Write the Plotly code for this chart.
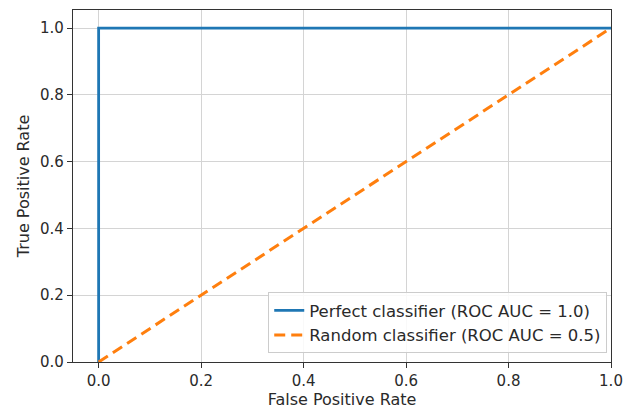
import plotly.graph_objects as go

perfect_fpr = [0.0, 0.0, 1.0]
perfect_tpr = [0.0, 1.0, 1.0]
random_fpr = [0.0, 1.0]
random_tpr = [0.0, 1.0]
series_names = ["Perfect classifier (ROC AUC = 1.0)", "Random classifier (ROC AUC = 0.5)"]
tick_vals = [0.0, 0.2, 0.4, 0.6, 0.8, 1.0]
tick_text = ["0.0", "0.2", "0.4", "0.6", "0.8", "1.0"]

FONT = "DejaVu Sans"
TXT = "#2a2a2a"

fig = go.Figure()
fig.add_trace(go.Scatter(x=perfect_fpr, y=perfect_tpr, mode="lines", name=series_names[0],
                         line=dict(color="#1f77b4", width=2.8)))
fig.add_trace(go.Scatter(x=random_fpr, y=random_tpr, mode="lines", name=series_names[1],
                         line=dict(color="#ff7f0e", width=3, dash="11px,6px")))

axis_common = dict(
    showgrid=True, gridcolor="#d4d4d4", gridwidth=1,
    showline=True, linecolor="#333333", linewidth=1.3, mirror=True,
    ticks="outside", ticklen=5, tickcolor="#333333", tickwidth=1.2,
    zeroline=False, tickvals=tick_vals, ticktext=tick_text,
    tickfont=dict(family=FONT, size=15, color=TXT),
)
fig.update_xaxes(range=[-0.05, 1.0], title=dict(text="False Positive Rate", standoff=4,
                 font=dict(family=FONT, size=16, color=TXT)), **axis_common)
fig.update_yaxes(range=[0.0, 1.054], title=dict(text="True Positive Rate", standoff=6,
                 font=dict(family=FONT, size=16, color=TXT)), **axis_common)

fig.update_layout(
    width=632, height=416,
    margin=dict(l=73, r=17, t=9, b=54),
    paper_bgcolor="white", plot_bgcolor="white",
    legend=dict(x=0.993, y=0.025, xanchor="right", yanchor="bottom",
                bgcolor="rgba(255,255,255,0.85)", bordercolor="#cccccc", borderwidth=1,
                font=dict(family=FONT, size=16.5, color=TXT),
                tracegroupgap=0),
    showlegend=True,
)

fig.write_html("out.html")
